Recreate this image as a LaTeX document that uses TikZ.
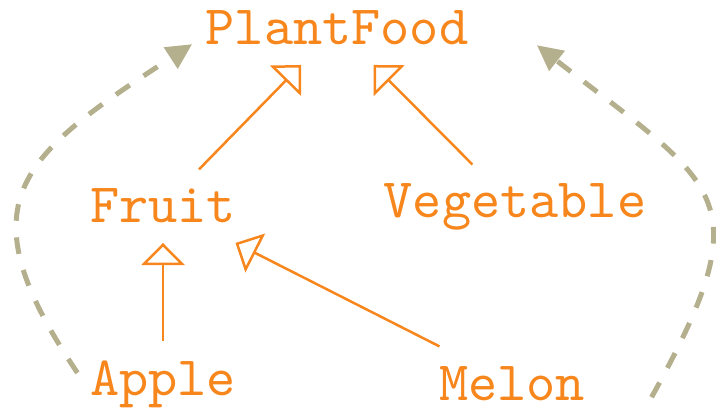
\documentclass[tikz,border=0pt]{standalone}
\usepackage{tikz}
\usetikzlibrary{arrows.meta}
\definecolor{corange}{HTML}{F7861C}
\definecolor{colive}{HTML}{B4AF8C}

\begin{document}
\begin{tikzpicture}[
    x=0.18pt, y=-0.18pt,
    cls/.style={font=\ttfamily, text=corange, anchor=base},
    inherit/.style={draw=corange, line width=0.45pt, -{Triangle[open, length=4pt, width=7.8pt]}},
    dep/.style={draw=colive, line width=0.9pt, dashed, -{Triangle[length=4.6pt, width=4.4pt]}},
]
\useasboundingbox (0,0) rectangle (716,409);

% Classes
\foreach \name/\x/\y/\txt in {
    plantfood/337/45/PlantFood,
    fruit/163/223/Fruit,
    vegetable/515/218/Vegetable,
    apple/163/395/Apple,
    melon/512/400/Melon%
} {
    \node[cls] (\name) at (\x, \y) {\txt};
}

% Inheritance
\foreach \sub/\super in {fruit/plantfood, vegetable/plantfood, apple/fruit, melon/fruit}
    \draw[inherit] (\sub) -- (\super);

% Dependencies
\draw[dep] ([shift={(7,-11)}]apple.west) to[out=124, in=213, looseness=1.52] ([shift={(6,16)}]plantfood.west);
\draw[dep] ([shift={(47,14)}]melon.east) to[out=61, in=322, looseness=1.6] ([shift={(49,17)}]plantfood.east);

\end{tikzpicture}
\end{document}
